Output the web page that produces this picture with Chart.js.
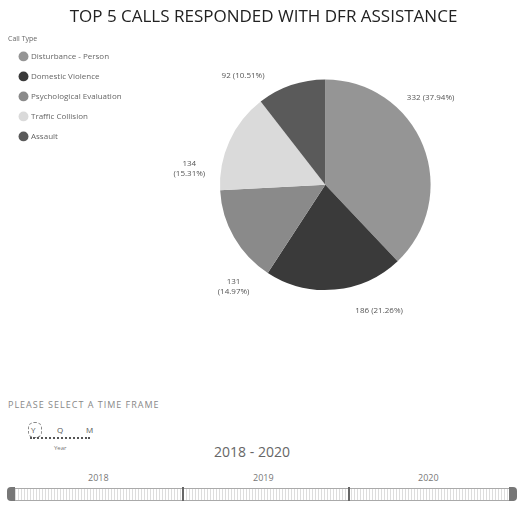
<!DOCTYPE html>
<html>
<head>
<meta charset="utf-8">
<script src="https://cdn.jsdelivr.net/npm/chart.js@4"></script>
<style>
  body { margin: 0; background: #fff; font-family: "Open Sans", sans-serif; }
  #wrap { position: relative; width: 524px; height: 505px; overflow: hidden; }
  #pieChart { position: absolute; left: 0; top: 0; }
  .pick { position: absolute; left: 8px; top: 398px; font-size: 9px; letter-spacing: 1px; color: #888; }
  .mode { position: absolute; left: 26px; top: 422px; width: 70px; height: 30px; font-size: 8px; color: #555; }
  .mode .ring { position: absolute; left: 2px; top: 0; width: 12px; height: 14px; border: 1px dashed #888; border-radius: 6px; }
  .mode span { position: absolute; top: 2px; }
  .mode .line { position: absolute; left: 4px; top: 15px; width: 60px; border-top: 2px dotted #555; }
  .mode .lbl { position: absolute; left: 28px; top: 22px; font-size: 6px; color: #777; }
  .range { position: absolute; left: 0; width: 504px; top: 442px; text-align: center; font-size: 14px; color: #666; }
  .yr { position: absolute; top: 471px; font-size: 9px; color: #777; }
  .bar { position: absolute; left: 12px; top: 488px; width: 500px; height: 11px; border: 1px solid #aaa; background: repeating-linear-gradient(90deg, #fff 0 2px, #ddd 2px 3px); }
  .div { position: absolute; top: 487px; width: 2px; height: 14px; background: #666; }
  .cap { position: absolute; top: 487px; width: 8px; height: 14px; background: #777; }
</style>
</head>
<body>
<div id="wrap">
  <canvas id="pieChart" width="524" height="390"></canvas>
  <div class="pick">PLEASE SELECT A TIME FRAME</div>
  <div class="mode">
    <div class="ring"></div>
    <span style="left:5px">Y</span><span style="left:31px">Q</span><span style="left:60px">M</span>
    <div class="line"></div>
    <div class="lbl">Year</div>
  </div>
  <div class="range">2018 - 2020</div>
  <div class="yr" style="left:88px">2018</div>
  <div class="yr" style="left:253px">2019</div>
  <div class="yr" style="left:418px">2020</div>
  <div class="bar"></div>
  <div class="cap" style="left:7px;border-radius:4px 0 0 4px"></div>
  <div class="cap" style="left:509px;border-radius:0 4px 4px 0"></div>
  <div class="div" style="left:182px"></div>
  <div class="div" style="left:348px"></div>
</div>
<script>
const callTypes = ["Disturbance - Person", "Domestic Violence", "Psychological Evaluation", "Traffic Collision", "Assault"];
const callCounts = [332, 186, 131, 134, 92];
const sliceColors = ["#959595", "#3a3a3a", "#8a8a8a", "#dadada", "#5a5a5a"];

const total = callCounts.reduce((a, b) => a + b, 0);

// draws "value (pct%)" outside each slice
const outsideLabels = {
  id: "outsideLabels",
  afterDatasetsDraw(chart) {
    const ctx = chart.ctx;
    const meta = chart.getDatasetMeta(0);
    ctx.save();
    ctx.font = "8px 'Open Sans'";
    ctx.fillStyle = "#555";
    ctx.textAlign = "center";
    ctx.textBaseline = "middle";
    meta.data.forEach((arc, i) => {
      const v = callCounts[i];
      const pct = (v / total * 100).toFixed(2);
      const mid = (arc.startAngle + arc.endAngle) / 2 - 18 * Math.PI / 180;
      const r = arc.outerRadius * 1.3;
      const x = arc.x + Math.cos(mid) * r;
      const y = arc.y + Math.sin(mid) * r;
      const deg = (mid * 180 / Math.PI + 450) % 360;
      if (deg > 200 && deg < 310) {
        ctx.fillText(String(v), x, y - 5);
        ctx.fillText("(" + pct + "%)", x, y + 5);
      } else {
        ctx.fillText(v + " (" + pct + "%)", x, y);
      }
    });
    ctx.restore();
  }
};

const ctx = document.getElementById("pieChart").getContext("2d");
const pieChart = new Chart(ctx, {
  type: "pie",
  data: {
    labels: callTypes,
    datasets: [
      {
        data: callCounts,
        backgroundColor: sliceColors,
        borderWidth: 0,
      },
    ],
  },
  options: {
    responsive: false,
    animation: false,
    layout: {
      padding: { top: 0, bottom: 100, left: 8, right: 5 },
    },
    plugins: {
      title: {
        display: true,
        text: "TOP 5 CALLS RESPONDED WITH DFR ASSISTANCE",
        color: "#222",
        font: { size: 17, family: "'Open Sans'", weight: "normal" },
        padding: { top: 7, bottom: 52 },
      },
      legend: {
        position: "left",
        align: "start",
        title: {
          display: true,
          text: "Call Type",
          position: "start",
          color: "#666",
          font: { size: 7, family: "'Open Sans'" },
          padding: { top: 35, bottom: -3 },
        },
        labels: {
          usePointStyle: true,
          pointStyle: "circle",
          boxWidth: 7,
          boxHeight: 7,
          padding: 12,
          color: "#666",
          font: { size: 8, family: "'Open Sans'" },
        },
      },
      tooltip: { enabled: false },
    },
  },
  plugins: [outsideLabels],
});
</script>
</body>
</html>
